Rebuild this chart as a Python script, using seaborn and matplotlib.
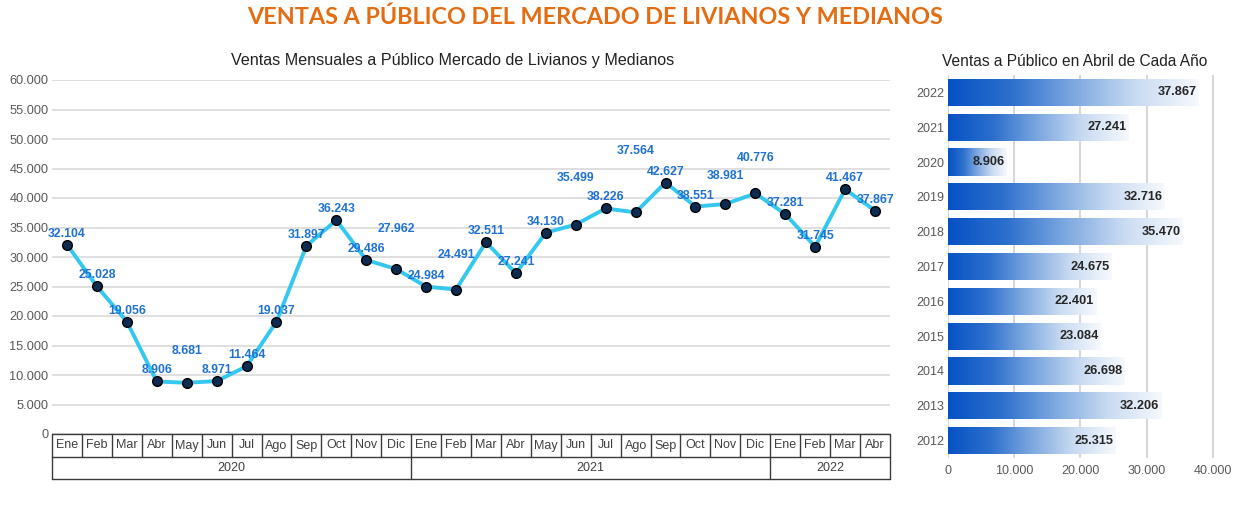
import numpy as np
import pandas as pd
import matplotlib
matplotlib.use('Agg')
import matplotlib.pyplot as plt
import matplotlib.transforms as mtransforms
from matplotlib.colors import LinearSegmentedColormap
from matplotlib.ticker import FuncFormatter
import seaborn as sns

# ---------------- data ----------------
months = ['Ene', 'Feb', 'Mar', 'Abr', 'May', 'Jun', 'Jul', 'Ago', 'Sep', 'Oct', 'Nov', 'Dic',
          'Ene', 'Feb', 'Mar', 'Abr', 'May', 'Jun', 'Jul', 'Ago', 'Sep', 'Oct', 'Nov', 'Dic',
          'Ene', 'Feb', 'Mar', 'Abr']
month_years = ['2020'] * 12 + ['2021'] * 12 + ['2022'] * 4
sales_2020 = [32104, 25028, 19056, 8906, 8681, 8971, 11464, 19037, 31897, 36243, 29486, 27962]
sales_2021 = [24984, 24491, 32511, 27241, 34130, 35499, 38226, 37564, 42627, 38551, 38981, 40776]
sales_2022 = [37281, 31745, 41467, 37867]
monthly_sales = sales_2020 + sales_2021 + sales_2022

april_years = ['2022', '2021', '2020', '2019', '2018', '2017', '2016', '2015', '2014', '2013', '2012']
april_sales = [37867, 27241, 8906, 32716, 35470, 24675, 22401, 23084, 26698, 32206, 25315]

# label vertical offsets (pixels) - styling only
label_offsets = [11, 11, 11, 11, 32, 11, 11, 11, 11, 11, 11, 40,
                 11, 35, 11, 11, 11, 47, 11, 61, 11, 11, 28, 35,
                 11, 11, 11, 11]

def fmt(v):
    return f"{int(v):,}".replace(',', '.')

sns.set_theme(style='white')
plt.rcParams['font.family'] = ['Liberation Sans', 'DejaVu Sans']

W, H = 1241, 509
fig = plt.figure(figsize=(W / 100, H / 100), dpi=100)
fig.patch.set_facecolor('white')

# ---------------- left line chart ----------------
ax = fig.add_axes([52 / W, 75 / H, 838 / W, 354 / H])
df = pd.DataFrame({'pos': np.arange(len(monthly_sales)), 'ventas': monthly_sales,
                   'mes': months, 'anio': month_years})
sns.lineplot(data=df, x='pos', y='ventas', ax=ax, color='#35C8EF', lw=2.8,
             marker='o', markersize=7, markerfacecolor='#0D2A50',
             markeredgecolor='#000000', markeredgewidth=1.0, zorder=3)
ax.set_xlim(-0.5, len(monthly_sales) - 0.5)
ax.set_ylim(0, 60000)
ax.set_yticks(np.arange(0, 60001, 5000))
ax.yaxis.set_major_formatter(FuncFormatter(lambda v, p: fmt(v)))
ax.set_xticks([])
ax.set_xlabel('')
ax.set_ylabel('')
ax.yaxis.grid(True, color='#D9D9D9', lw=1.2)
ax.set_axisbelow(True)
for s in ax.spines.values():
    s.set_visible(False)
ax.tick_params(axis='y', length=0, pad=2.5, labelsize=9.2, labelcolor='#595959')

for x, v, off in zip(df['pos'], df['ventas'], label_offsets):
    ax.annotate(fmt(v), (x, v), xytext=(0, off), textcoords='offset pixels',
                ha='center', va='center', fontsize=8.8, fontweight='bold',
                color='#1F72D2', zorder=4)

# category table under axis
trans = mtransforms.blended_transform_factory(ax.transData, ax.transAxes)
r1 = -23 / 354
r2 = -45 / 354
lc = '#3A3A3A'
n = len(monthly_sales)
for yy in [0, r1, r2]:
    ax.plot([-0.5, n - 0.5], [yy, yy], transform=trans, color=lc, lw=1, clip_on=False)
for k in range(n + 1):
    ax.plot([k - 0.5, k - 0.5], [0, r1], transform=trans, color=lc, lw=1, clip_on=False)
for i, m in enumerate(months):
    ax.text(i, r1 / 2, m, transform=trans, ha='center', va='center', fontsize=9, color='#404040')
year_groups = df.groupby('anio', sort=False)['pos'].agg(['min', 'max'])
bounds = [-0.5] + [mx + 0.5 for mx in year_groups['max']]
for b in bounds:
    ax.plot([b, b], [r1, r2], transform=trans, color=lc, lw=1, clip_on=False)
for yr, row in year_groups.iterrows():
    ax.text((row['min'] + row['max']) / 2, (r1 + r2) / 2, yr, transform=trans,
            ha='center', va='center', fontsize=9, color='#404040')

# ---------------- right bar chart ----------------
ax2 = fig.add_axes([948 / W, 51 / H, 268.3 / W, 383 / H])
bdf = pd.DataFrame({'anio': april_years, 'ventas': april_sales})
sns.barplot(data=bdf, x='ventas', y='anio', order=april_years, orient='h', ax=ax2,
            width=0.78, color='#1560C8', zorder=2)
ax2.set_xlim(0, 40500)
ax2.set_ylim(len(april_years) - 0.5, -0.5)
cmap = LinearSegmentedColormap.from_list('g', ['#0652C4', '#2C6FCD', '#7DA8E0', '#C9DBF2', '#F6F9FD'])
grad = np.linspace(0, 1, 256).reshape(1, -1)
for p in list(ax2.patches):
    x0, y0 = p.get_x(), p.get_y()
    w, h = p.get_width(), p.get_height()
    im = ax2.imshow(grad, extent=[x0, x0 + w, y0 + h, y0], aspect='auto', cmap=cmap,
                    zorder=2, interpolation='bilinear')
    im.set_clip_path(p)
    p.set_facecolor('none')
    p.set_edgecolor('none')
ax2.set_xlim(0, 40500)
ax2.set_ylim(len(april_years) - 0.5, -0.5)
ax2.set_aspect('auto')

for i, v in enumerate(april_sales):
    ax2.text(v - 350, i, fmt(v), ha='right', va='center', fontsize=9.2,
             fontweight='bold', color='#262626', zorder=4)

ax2.set_xticks(np.arange(0, 40001, 10000))
ax2.xaxis.set_major_formatter(FuncFormatter(lambda v, p: fmt(v)))
ax2.xaxis.grid(True, color='#D0D0D0', lw=1.2)
ax2.set_axisbelow(True)
ax2.set_xlabel('')
ax2.set_ylabel('')
for s in ax2.spines.values():
    s.set_visible(False)
ax2.tick_params(axis='x', length=0, pad=5, labelsize=9, labelcolor='#595959')
ax2.tick_params(axis='y', length=0, pad=2.5, labelsize=9, labelcolor='#595959')

# ---------------- titles ----------------
fig.text(595 / W, 1 - 17 / H, 'VENTAS A PÚBLICO DEL MERCADO DE LIVIANOS Y MEDIANOS',
         ha='center', va='center', fontsize=16.8, fontweight='bold', color='#E46C12',
         family=['Lato', 'DejaVu Sans'])
fig.text(453 / W, 1 - 61 / H, 'Ventas Mensuales a Público Mercado de Livianos y Medianos',
         ha='center', va='center', fontsize=11.6, color='#222222')
fig.text(1075 / W, 1 - 62 / H, 'Ventas a Público en Abril de Cada Año',
         ha='center', va='center', fontsize=11.2, color='#222222')

fig.savefig('out.png', dpi=100, facecolor='white')
